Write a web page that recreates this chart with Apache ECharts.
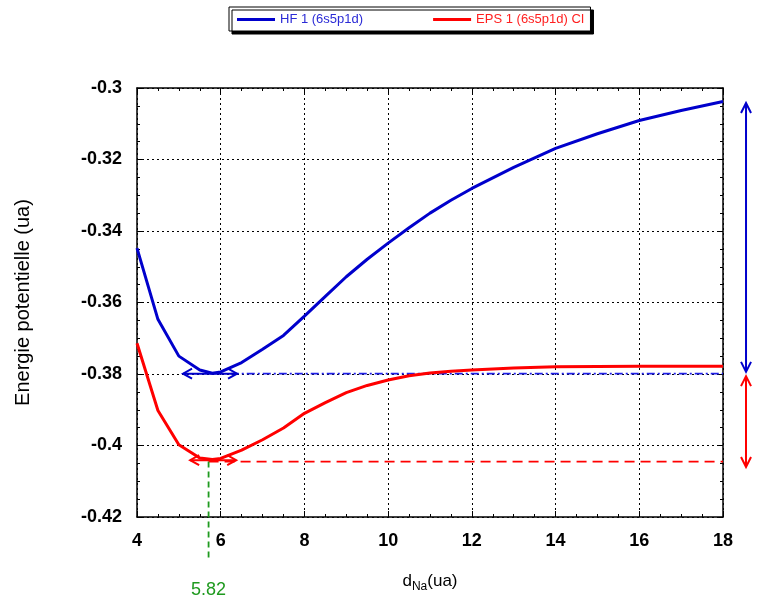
<!DOCTYPE html>
<html>
<head>
<meta charset="utf-8">
<script src="https://cdn.jsdelivr.net/npm/echarts@6/dist/echarts.min.js"></script>
<style>
html,body{margin:0;padding:0;background:#fff;}
#chart{width:764px;height:602px;}
</style>
</head>
<body>
<div id="chart"></div>
<script>
// ---- data ----
const seriesNames = ['HF 1 (6s5p1d)', 'EPS 1 (6s5p1d) CI'];
const distances = [4, 4.5, 5, 5.5, 5.8, 6, 6.5, 7, 7.5, 8, 8.5, 9, 9.5, 10, 10.5, 11, 11.5, 12, 13, 14, 15, 16, 17, 18];
const hfEnergy = [-0.3448, -0.3647, -0.3750, -0.3789, -0.3798, -0.3794, -0.3768, -0.3731, -0.3692, -0.3638, -0.3583, -0.3528, -0.3479, -0.3434, -0.3391, -0.3350, -0.3314, -0.3281, -0.3222, -0.3169, -0.3128, -0.3091, -0.3063, -0.3038];
const epsEnergy = [-0.3714, -0.3902, -0.3998, -0.4035, -0.4039, -0.4036, -0.4013, -0.3984, -0.3951, -0.3910, -0.3880, -0.3852, -0.3832, -0.3817, -0.3805, -0.3797, -0.3792, -0.3789, -0.3783, -0.3780, -0.3779, -0.3778, -0.3778, -0.3778];
const xTicks = {min: 4, max: 18, step: 2};
const yTicks = {min: -0.42, max: -0.3, step: 0.02};
// annotations: equilibrium distance and reference levels
const eqLineX = 5.71;      // where the green marker line is drawn
const eqLabel = '5.82';
const hfLevel = -0.3799;   // HF minimum level (dash-dot)
const epsLevel = -0.4045;  // EPS minimum level (dashed)
const hfArrow = [5.10, 6.39, -0.3799];   // x1, x2, y
const epsArrow = [5.27, 6.37, -0.4041];
const rightArrowX = 18.55;
const hfDepth = [-0.3042, -0.3794];      // vertical double arrow (blue)
const epsDepth = [-0.3806, -0.4060];     // vertical double arrow (red)
const eqLineBottom = -0.4320;
const eqLabelY = -0.4404;

const BLUE = '#0000cc';
const RED = '#ff0000';
const GREEN = '#1f9a1f';
const FONT = 'Liberation Sans, Arial, sans-serif';

function pairs(xs, ys){ return xs.map((x,i)=>[x, ys[i]]); }

const chart = echarts.init(document.getElementById('chart'), null, {renderer:'canvas'});

const tickLabelFont = {fontFamily:FONT, fontWeight:'bold', fontSize:18, color:'#000'};

function hArrowRender(color){
  return function(params, api){
    const a = api.coord([api.value(0), api.value(2)]);
    const b = api.coord([api.value(1), api.value(2)]);
    const L = 9, H = 5;
    const st = {stroke: color, lineWidth: 2, fill: null};
    return {type:'group', children:[
      {type:'line', shape:{x1:a[0],y1:a[1],x2:b[0],y2:b[1]}, style:st},
      {type:'polyline', shape:{points:[[a[0]+L,a[1]-H],[a[0],a[1]],[a[0]+L,a[1]+H]]}, style:st},
      {type:'polyline', shape:{points:[[b[0]-L,b[1]-H],[b[0],b[1]],[b[0]-L,b[1]+H]]}, style:st}
    ]};
  };
}
function vArrowRender(color){
  return function(params, api){
    const a = api.coord([api.value(0), api.value(1)]);
    const b = api.coord([api.value(0), api.value(2)]);
    const L = 10, H = 5;
    const st = {stroke: color, lineWidth: 2, fill: null};
    return {type:'group', children:[
      {type:'line', shape:{x1:a[0],y1:a[1],x2:b[0],y2:b[1]}, style:st},
      {type:'polyline', shape:{points:[[a[0]-H,a[1]+L],[a[0],a[1]],[a[0]+H,a[1]+L]]}, style:st},
      {type:'polyline', shape:{points:[[b[0]-H,b[1]-L],[b[0],b[1]],[b[0]+H,b[1]-L]]}, style:st}
    ]};
  };
}
function segRender(color, dash){
  return function(params, api){
    const a = api.coord([api.value(0), api.value(1)]);
    const b = api.coord([api.value(2), api.value(3)]);
    return {type:'line', shape:{x1:a[0],y1:a[1],x2:b[0],y2:b[1]},
      style:{stroke: color, lineWidth: 1.8, lineDash: dash, fill:null}};
  };
}

const option = {
  animation: false,
  backgroundColor: '#fff',
  grid: {left:137, right:41, top:88, bottom:85},
  legend: {
    left: 229, top: 7,
    padding: [6, 6, 5, 8],
    itemGap: 70,
    itemWidth: 38, itemHeight: 3,
    textStyle: {fontFamily:FONT, fontSize: 13},
    borderColor: '#000', borderWidth: 1,
    backgroundColor: '#fff',
    shadowColor: '#000', shadowOffsetX: 3, shadowOffsetY: 3, shadowBlur: 0,
    data: [
      {name: seriesNames[0], icon: 'rect', textStyle:{color:'#2b2bd6'}},
      {name: seriesNames[1], icon: 'rect', textStyle:{color:'#ff2020'}}
    ]
  },
  xAxis: [{
    type:'value', min:xTicks.min, max:xTicks.max, interval:xTicks.step,
    name: '{d|d}{s|Na}{d|(ua)}', nameLocation:'middle', nameGap: 52,
    nameTextStyle: {rich:{
      d:{fontFamily:FONT, fontSize:17, color:'#000'},
      s:{fontFamily:FONT, fontSize:12, color:'#000', verticalAlign:'bottom', padding:[12,0,0,0]}
    }},
    axisLine:{show:true, onZero:false, lineStyle:{color:'#000', width:1.5}},
    axisTick:{show:true, inside:true, length:6, lineStyle:{color:'#000'}},
    minorTick:{show:true, splitNumber:4, length:3, lineStyle:{color:'#000'}},
    axisLabel:Object.assign({margin:15}, tickLabelFont),
    splitLine:{show:true, lineStyle:{color:'#000', type:[2,3], width:1}}
  },{
    type:'value', position:'top', min:xTicks.min, max:xTicks.max, interval:xTicks.step,
    axisLine:{show:true, onZero:false, lineStyle:{color:'#000', width:1.5}},
    axisTick:{show:true, inside:true, length:6, lineStyle:{color:'#000'}},
    minorTick:{show:true, splitNumber:4, length:3, lineStyle:{color:'#000'}},
    axisLabel:{show:false}, splitLine:{show:false}
  }],
  yAxis: [{
    type:'value', min:yTicks.min, max:yTicks.max, interval:yTicks.step,
    name:'Energie potentielle (ua)', nameLocation:'middle', nameRotate:90, nameGap:104,
    nameTextStyle:{fontFamily:FONT, fontSize:20, color:'#000'},
    axisLine:{show:true, onZero:false, lineStyle:{color:'#000', width:1.5}},
    axisTick:{show:true, inside:true, length:6, lineStyle:{color:'#000'}},
    minorTick:{show:true, splitNumber:4, length:3, lineStyle:{color:'#000'}},
    axisLabel:Object.assign({margin:15}, tickLabelFont),
    splitLine:{show:true, lineStyle:{color:'#000', type:[2,3], width:1}}
  },{
    type:'value', position:'right', min:yTicks.min, max:yTicks.max, interval:yTicks.step,
    axisLine:{show:true, onZero:false, lineStyle:{color:'#000', width:1.5}},
    axisTick:{show:true, inside:true, length:6, lineStyle:{color:'#000'}},
    minorTick:{show:true, splitNumber:4, length:3, lineStyle:{color:'#000'}},
    axisLabel:{show:false}, splitLine:{show:false}
  }],
  series: [
    {name: seriesNames[0], type:'line', data: pairs(distances, hfEnergy), symbol:'none',
     color: BLUE, lineStyle:{width:3, color:BLUE}, z:5},
    {name: seriesNames[1], type:'line', data: pairs(distances, epsEnergy), symbol:'none',
     color: RED, lineStyle:{width:3, color:RED}, z:5},
    {type:'custom', clip:false, silent:true, z:4, renderItem: segRender('#2020e8', [8,3,2,3]),
     data: [[hfArrow[1] - 0.15, hfLevel, xTicks.max, hfLevel]]},
    {type:'custom', clip:false, silent:true, z:4, renderItem: segRender(RED, [10,6]),
     data: [[eqLineX, epsLevel, xTicks.max, epsLevel]]},
    {type:'custom', clip:false, silent:true, z:4, renderItem: segRender(GREEN, [6,4]),
     data: [[eqLineX, epsLevel, eqLineX, eqLineBottom]]},
    {type:'custom', clip:false, silent:true, z:6, renderItem: hArrowRender(BLUE), data:[hfArrow]},
    {type:'custom', clip:false, silent:true, z:6, renderItem: hArrowRender(RED), data:[epsArrow]},
    {type:'custom', clip:false, silent:true, z:6, renderItem: vArrowRender(BLUE), data:[[rightArrowX, hfDepth[0], hfDepth[1]]]},
    {type:'custom', clip:false, silent:true, z:6, renderItem: vArrowRender(RED), data:[[rightArrowX, epsDepth[0], epsDepth[1]]]},
    {type:'custom', clip:false, silent:true, z:6,
     renderItem: function(params, api){
       const p = api.coord([api.value(0), api.value(1)]);
       return {type:'text', x:p[0], y:p[1], style:{text: eqLabel, fill: GREEN,
         font:'18px ' + FONT, align:'center', verticalAlign:'middle'}};
     },
     data:[[eqLineX, eqLabelY]]}
  ]
};
chart.setOption(option);
</script>
</body>
</html>
